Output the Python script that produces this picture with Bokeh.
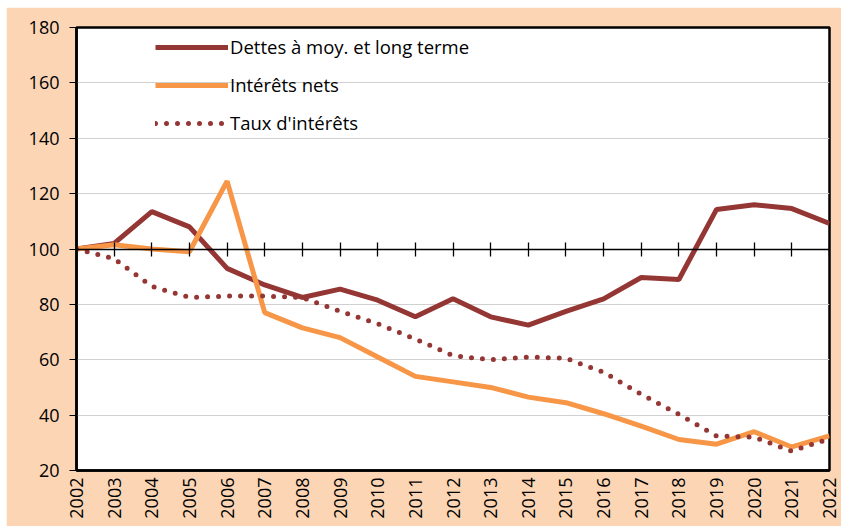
from bokeh.plotting import figure
from bokeh.models import LinearAxis, Legend, LegendItem, FixedTicker, Range1d
from bokeh.embed import file_html
from bokeh.resources import INLINE
import math

years = list(range(2002, 2023))
dettes = [100, 102, 113.5, 108, 93, 87, 82.5, 85.5, 81.5, 75.5, 82, 75.5, 72.5, 77.5, 82, 89.7, 89, 114.3, 116, 114.6, 109.2]
interets = [100, 101.5, 100, 99, 124.5, 77, 71.5, 68, 61, 54, 52, 50, 46.5, 44.5, 40.5, 36, 31.2, 29.5, 34, 28.5, 32.5]
taux = [100, 96.5, 86.5, 82.5, 83, 83, 82.5, 77.5, 73, 67.5, 61.5, 60, 61, 60.5, 55.5, 47.5, 40.3, 32.5, 32, 27, 31.5]
y_ticks = [20, 40, 60, 80, 100, 120, 140, 160, 180]
labels = ["Dettes à moy. et long terme", "Intérêts nets", "Taux d'intérêts"]

FONT = "Open Sans"
DARK = "#943634"
ORANGE = "#F79646"
PEACH = "#FCD5B5"

p = figure(width=835, height=519, output_backend="svg", toolbar_location=None,
           x_range=Range1d(2002, 2022), y_range=Range1d(20, 180),
           min_border_left=70, min_border_top=20, min_border_right=12, min_border_bottom=56)
p.margin = (7, 0, 0, 6)
p.border_fill_color = PEACH
p.background_fill_color = "white"
p.outline_line_color = "black"
p.outline_line_width = 2.5

p.xgrid.visible = False
p.ygrid.ticker = FixedTicker(ticks=y_ticks)
p.ygrid.grid_line_color = "#D0D0D0"
p.ygrid.grid_line_width = 1.2

p.yaxis.ticker = FixedTicker(ticks=y_ticks)
p.yaxis.axis_line_color = "black"
p.yaxis.axis_line_width = 2.5
p.yaxis.major_tick_out = 7
p.yaxis.major_tick_in = 0
p.yaxis.minor_tick_line_color = None
p.yaxis.major_label_text_font = FONT
p.yaxis.major_label_text_font_size = "18px"
p.yaxis.major_label_text_color = "black"
p.yaxis.major_label_standoff = 10

p.xaxis.ticker = FixedTicker(ticks=years)
p.xaxis.axis_line_color = "black"
p.xaxis.axis_line_width = 2.5
p.xaxis.major_tick_out = 0
p.xaxis.major_tick_in = 0
p.xaxis.minor_tick_line_color = None
p.xaxis.major_label_orientation = math.pi / 2
p.xaxis.major_label_text_font = FONT
p.xaxis.major_label_text_font_size = "18px"
p.xaxis.major_label_text_color = "black"
p.xaxis.major_label_standoff = 7

mid = LinearAxis(fixed_location=100, ticker=FixedTicker(ticks=years),
                 axis_line_color="black", axis_line_width=1.3,
                 major_tick_in=7, major_tick_out=7, major_tick_line_color="black",
                 major_tick_line_width=1.3, minor_tick_line_color=None,
                 major_label_text_font_size="0px", major_label_text_alpha=0)
p.add_layout(mid, "below")

r1 = p.line(years, dettes, line_color=DARK, line_width=5)
r2 = p.line(years, interets, line_color=ORANGE, line_width=5)
r3 = p.line(years, taux, line_color=DARK, line_width=5, line_dash="0 11", line_cap="round")

legend = Legend(items=[LegendItem(label=labels[0], renderers=[r1]),
                       LegendItem(label=labels[1], renderers=[r2]),
                       LegendItem(label=labels[2], renderers=[r3])],
                location=(79, 335), glyph_width=73, glyph_height=20, label_height=20,
                spacing=13, label_standoff=2, padding=0, margin=0,
                border_line_alpha=0, background_fill_alpha=0,
                label_text_font=FONT, label_text_font_size="18.5px", label_text_color="black")
p.add_layout(legend)

open("out.html", "w").write(file_html(p, INLINE))
